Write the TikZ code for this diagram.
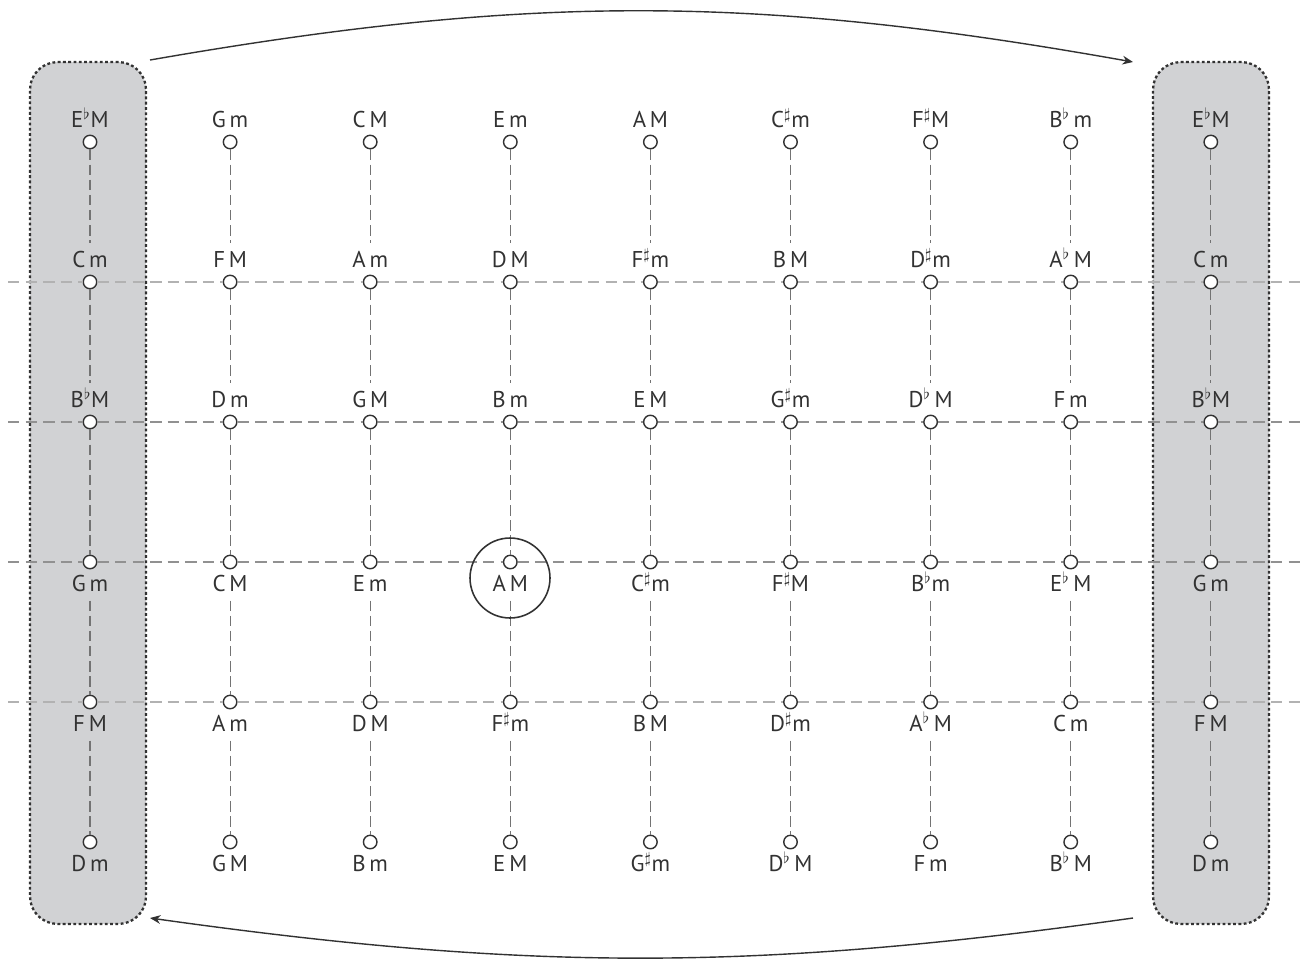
\documentclass[tikz,border=0pt]{standalone}
\usepackage{fontspec}
\setmainfont{PT Sans}
\usetikzlibrary{arrows.meta, positioning}
\definecolor{boxgray}{RGB}{209,210,212}
\definecolor{colgray}{RGB}{115,115,115}
\definecolor{rowgray}{RGB}{178,178,178}
\definecolor{midgray}{RGB}{145,145,145}
\definecolor{inkgray}{RGB}{50,50,50}

\begin{document}
\begin{tikzpicture}[x=0.02cm, y=-0.02cm,
    sidebox/.style={rectangle, rounded corners=0.55cm, draw=inkgray, fill=boxgray, line width=1.3pt, dash pattern=on 1.6pt off 1.4pt, minimum width=2.32cm, minimum height=17.24cm},
    chord/.style={circle, draw=inkgray, fill=white, line width=0.8pt, minimum size=0.27cm, inner sep=0pt},
    chordname/.style={inner sep=1pt, text height=9pt, text depth=0pt, text=inkgray, font=\fontsize{13}{15}\selectfont},
    colline/.style={colgray, line width=0.6pt, dash pattern=on 6pt off 2.6pt},
    rowline/.style={rowgray, line width=0.8pt, dash pattern=on 6.5pt off 3.5pt},
    ring/.style={circle, draw=inkgray, line width=0.9pt, minimum size=1.6cm, inner sep=0pt},
    flow/.style={-{Stealth[length=6pt, width=5pt]}, inkgray, line width=0.8pt},
]
\useasboundingbox (0,0) rectangle (1305,968);

% the two repeated columns
\node[sidebox] (lbox) at (88,493) {};
\node[sidebox] (rbox) at (1211,493) {};

% chords, labels above
\foreach \nm [count=\i] in {E$^\flat$M, G\,m, C\,M, E\,m, A\,M, C$^\sharp$m, F$^\sharp$M, B$^\flat$\,m, E$^\flat$M} {
  \node[chord] (c1-\i) at ({90+140.1*(\i-1)},142) {};
  \node[chordname, above=0.1cm of c1-\i] (n1-\i) {\nm};
}
\foreach \nm [count=\i] in {C\,m, F\,M, A\,m, D\,M, F$^\sharp$m, B\,M, D$^\sharp$m, A$^\flat$\,M, C\,m} {
  \node[chord] (c2-\i) at ({90+140.1*(\i-1)},282) {};
  \node[chordname, above=0.1cm of c2-\i] (n2-\i) {\nm};
}
\foreach \nm [count=\i] in {B$^\flat$M, D\,m, G\,M, B\,m, E\,M, G$^\sharp$m, D$^\flat$\,M, F\,m, B$^\flat$M} {
  \node[chord] (c3-\i) at ({90+140.1*(\i-1)},422) {};
  \node[chordname, above=0.1cm of c3-\i] (n3-\i) {\nm};
}
% chords, labels below
\foreach \nm [count=\i] in {G\,m, C\,M, E\,m, A\,M, C$^\sharp$m, F$^\sharp$M, B$^\flat$m, E$^\flat$\,M, G\,m} {
  \node[chord] (c4-\i) at ({90+140.1*(\i-1)},562) {};
  \node[chordname, below=0.08cm of c4-\i] (n4-\i) {\nm};
}
\foreach \nm [count=\i] in {F\,M, A\,m, D\,M, F$^\sharp$m, B\,M, D$^\sharp$m, A$^\flat$\,M, C\,m, F\,M} {
  \node[chord] (c5-\i) at ({90+140.1*(\i-1)},702) {};
  \node[chordname, below=0.08cm of c5-\i] (n5-\i) {\nm};
}
\foreach \nm [count=\i] in {D\,m, G\,M, B\,m, E\,M, G$^\sharp$m, D$^\flat$\,M, F\,m, B$^\flat$\,M, D\,m} {
  \node[chord] (c6-\i) at ({90+140.1*(\i-1)},842) {};
  \node[chordname, below=0.08cm of c6-\i] (n6-\i) {\nm};
}

% columns
\foreach \i in {1,...,9} {
  \draw[colline, shorten >=4pt] (c1-\i) -- (n2-\i);
  \draw[colline, shorten >=4pt] (c2-\i) -- (n3-\i);
  \draw[colline] (c3-\i) -- (c4-\i);
  \draw[colline, shorten <=4pt] (n4-\i) -- (c5-\i);
  \draw[colline, shorten <=4pt] (n5-\i) -- (c6-\i);
}

% rows
\foreach \r/\y/\shade in {2/282/rowgray, 3/422/midgray, 4/562/midgray, 5/702/rowgray} {
  \coordinate (w\r) at (8,\y);
  \coordinate (e\r) at (1305,\y);
  \draw[rowline, \shade] (w\r) -- (c\r-1);
  \foreach \i [evaluate=\i as \j using int(\i+1)] in {1,...,8}
    \draw[rowline, \shade] (c\r-\i) -- (c\r-\j);
  \draw[rowline, \shade] (c\r-9) -- (e\r);
}

% home key
\node[ring] (home) at (510,578) {};

% wrap-around
\coordinate (tl) at (150,60);
\coordinate (tr) at (1133,62);
\coordinate (bl) at (150,918);
\coordinate (br) at (1133,918);
\draw[flow] (tl) to[bend left=10] (tr);
\draw[flow] (br) to[bend left=8] (bl);

\end{tikzpicture}
\end{document}
